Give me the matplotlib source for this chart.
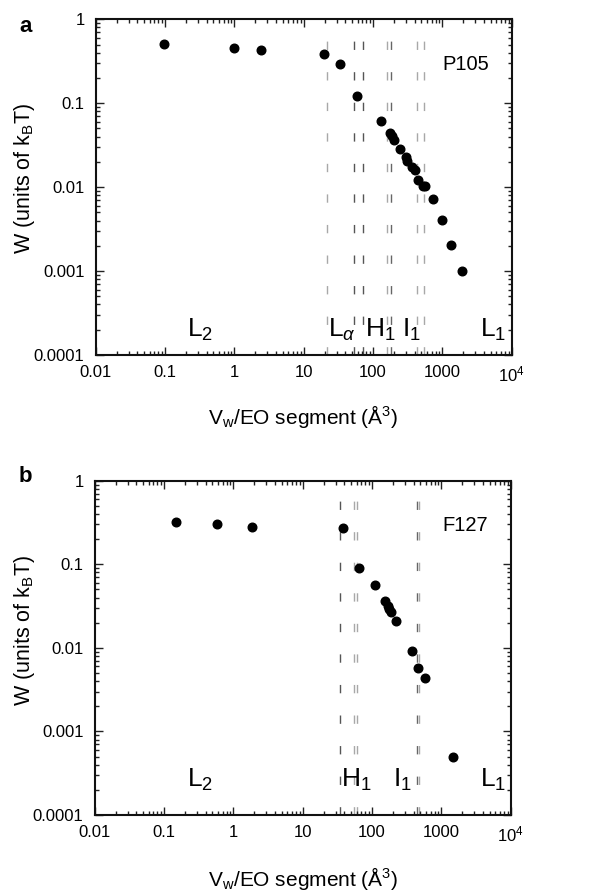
import matplotlib
matplotlib.use("Agg")
import matplotlib.pyplot as plt
from matplotlib.ticker import LogLocator, FixedLocator, FixedFormatter, NullFormatter

plt.rcParams['font.family'] = ['Liberation Sans', 'DejaVu Sans']
plt.rcParams['mathtext.fontset'] = 'custom'
plt.rcParams['mathtext.rm'] = 'Liberation Sans'
plt.rcParams['mathtext.it'] = 'Liberation Sans:italic'
plt.rcParams['mathtext.bf'] = 'Liberation Sans:bold'

# ---------------- data ----------------
p105_x = [0.098, 1.0, 2.4, 19.8, 33, 59, 130, 176, 186, 203, 245, 296, 312, 361, 403,
          441, 520, 562, 726, 998, 1346, 1940]
p105_w = [0.51, 0.46, 0.43, 0.39, 0.29, 0.122, 0.061, 0.0447, 0.041, 0.036, 0.0286,
          0.0228, 0.0207, 0.0176, 0.0161, 0.0122, 0.0102, 0.0102, 0.0072, 0.00405,
          0.00204, 0.00101]
p105_bounds = [21.5, 53, 71, 157, 181, 435, 543]
p105_phases = ['L$_2$', 'L$_\\alpha$', 'H$_1$', 'I$_1$', 'L$_1$']
p105_phase_x = [0.207, 22.4, 76.5, 262, 3490]

f127_x = [0.149, 0.575, 1.84, 37.8, 64, 109, 155, 168, 177, 188, 219, 374, 461, 581, 1459]
f127_w = [0.318, 0.306, 0.281, 0.274, 0.090, 0.0558, 0.0362, 0.0318, 0.029, 0.0268,
          0.021, 0.0092, 0.0057, 0.0043, 0.00049]
f127_bounds = [34.5, 55, 60, 441, 471]
f127_phases = ['L$_2$', 'H$_1$', 'I$_1$', 'L$_1$']
f127_phase_x = [0.214, 35.3, 203, 3610]

x_ticks = [0.01, 0.1, 1, 10, 100, 1000, 10000]
x_ticklabels = ['0.01', '0.1', '1', '10', '100', '1000', '10$^4$']
y_ticks = [0.0001, 0.001, 0.01, 0.1, 1]
y_ticklabels = ['0.0001', '0.001', '0.01', '0.1', '1']

# styles
a_colors = ['#a8a8a8', '#555555', '#555555', '#a8a8a8', '#666666', '#a8a8a8', '#a8a8a8']
b_colors = ['#555555', '#a8a8a8', '#a8a8a8', '#666666', '#a8a8a8']

fig = plt.figure(figsize=(6.03, 8.93), dpi=100)
W, H = 603.0, 893.0

def make_axes(l, t, r, b):
    return fig.add_axes([l / W, 1 - b / H, (r - l) / W, (b - t) / H])

axa = make_axes(95.7, 19.3, 511.7, 355)
axb = make_axes(94.7, 480.7, 510.7, 815)

def style(ax):
    ax.set_xscale('log')
    ax.set_yscale('log')
    ax.set_xlim(0.01, 1e4)
    ax.set_ylim(1e-4, 1)
    ax.xaxis.set_major_locator(FixedLocator(x_ticks))
    ax.xaxis.set_major_formatter(FixedFormatter(x_ticklabels))
    ax.yaxis.set_major_locator(FixedLocator(y_ticks))
    ax.yaxis.set_major_formatter(FixedFormatter(y_ticklabels))
    ax.xaxis.set_minor_locator(LogLocator(base=10, subs=range(2, 10), numticks=20))
    ax.yaxis.set_minor_locator(LogLocator(base=10, subs=range(2, 10), numticks=20))
    ax.xaxis.set_minor_formatter(NullFormatter())
    ax.yaxis.set_minor_formatter(NullFormatter())
    ax.tick_params(which='both', direction='in', top=True, right=True, width=1.0,
                   color='#222222')
    ax.tick_params(which='major', length=5.5)
    ax.tick_params(which='minor', length=3)
    ax.tick_params(axis='x', which='major', labelsize=12, pad=7)
    ax.tick_params(axis='y', which='major', labelsize=12, pad=8)
    for s in ax.spines.values():
        s.set_linewidth(1.5)
        s.set_color('#111111')

def panel(ax, xs, ws, bounds, colors, phases, phase_x, phase_y, name, name_y):
    style(ax)
    for b, c in zip(bounds, colors):
        ax.axvline(b, color=c, lw=1.0, dashes=(6, 16), zorder=1)
    ax.plot(xs, ws, 'o', color='black', ms=6.2, zorder=3, clip_on=False)
    for lab, px in zip(phases, phase_x):
        ax.text(px, phase_y, lab, fontsize=19, ha='left', va='baseline', zorder=2)
    ax.text(0.945, name_y, name, transform=ax.transAxes, fontsize=14.5,
            ha='right', va='center')

panel(axa, p105_x, p105_w, p105_bounds, a_colors, p105_phases, p105_phase_x,
      1.66e-4, 'P105', 0.864)
panel(axb, f127_x, f127_w, f127_bounds, b_colors, f127_phases, f127_phase_x,
      2.16e-4, 'F127', 0.867)

xlabel = 'V$_\\mathregular{w}$/EO segment (Å$^3$)'
ylabel = 'W (units of k$_\\mathregular{B}$T)'
for ax, xl_y, yl_y, letter, let_y in [(axa, 416, 178, 'a', 26), (axb, 878, 630, 'b', 477)]:
    fig.text(303.5 / W, 1 - xl_y / H, xlabel, fontsize=15, ha='center', va='center')
    fig.text(25 / W, 1 - yl_y / H, ylabel, fontsize=15.5, ha='center', va='center',
             rotation=90)
    fig.text(19 / W, 1 - let_y / H, letter, fontsize=16, fontweight='bold',
             ha='left', va='center')

fig.savefig('out.png', dpi=100)
